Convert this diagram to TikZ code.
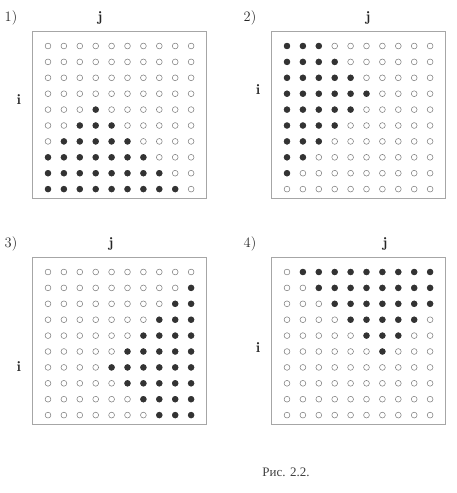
\documentclass[tikz,border=0pt]{standalone}
\usepackage{fontspec}
\newfontfamily\cyrfont{Liberation Serif}
\newcommand{\gridstep}{15.9}
\newcommand{\dotpanel}[6]{
\begin{scope}[shift={(#2,#3)}]
\draw[gray!70, line width=0.6pt] (-16,-15) rectangle (158,152);
\node[panellabel] (lab#1) at (-37,-28) {#1)};
\node[panellabel] (j#1) at (#4,-28) {$\mathbf{j}$};
\node[panellabel] (i#1) at (-29,#5) {$\mathbf{i}$};
\foreach \r in {0,...,9} \foreach \c in {0,...,9} \draw[gray, line width=0.55pt] ({\c*\gridstep},{\r*\gridstep}) circle (2.9pt);
\foreach \r/\a/\b in {#6} \foreach \c in {\a,...,\b} \fill[black!80] ({(\c-1)*\gridstep},{(\r-1)*\gridstep}) circle (3.2pt);
\end{scope}
}
\tikzset{panellabel/.style={text=black!85, font=\Large, inner sep=0pt}}

\begin{document}
\begin{tikzpicture}[x=1pt,y=-1pt]
    \useasboundingbox (0,0) rectangle (457,493);
    \dotpanel{1}{48}{46}{52}{54}{5/4/4, 6/3/5, 7/2/6, 8/1/7, 9/1/8, 10/1/9}
    \dotpanel{2}{287}{46}{81}{44}{1/1/3, 2/1/4, 3/1/5, 4/1/6, 5/1/5, 6/1/4, 7/1/3, 8/1/2, 9/1/1}
    \dotpanel{3}{48}{272}{63}{95}{2/10/10, 3/9/10, 4/8/10, 5/7/10, 6/6/10, 7/5/10, 8/6/10, 9/7/10, 10/8/10}
    \dotpanel{4}{287}{272}{98}{76}{1/2/10, 2/3/10, 3/4/10, 4/5/9, 5/6/8, 6/7/7}
    \node[text=black!75, font=\cyrfont\fontsize{13}{15}\selectfont] (caption) at (286,472) {Рис. 2.2.};
\end{tikzpicture}
\end{document}
